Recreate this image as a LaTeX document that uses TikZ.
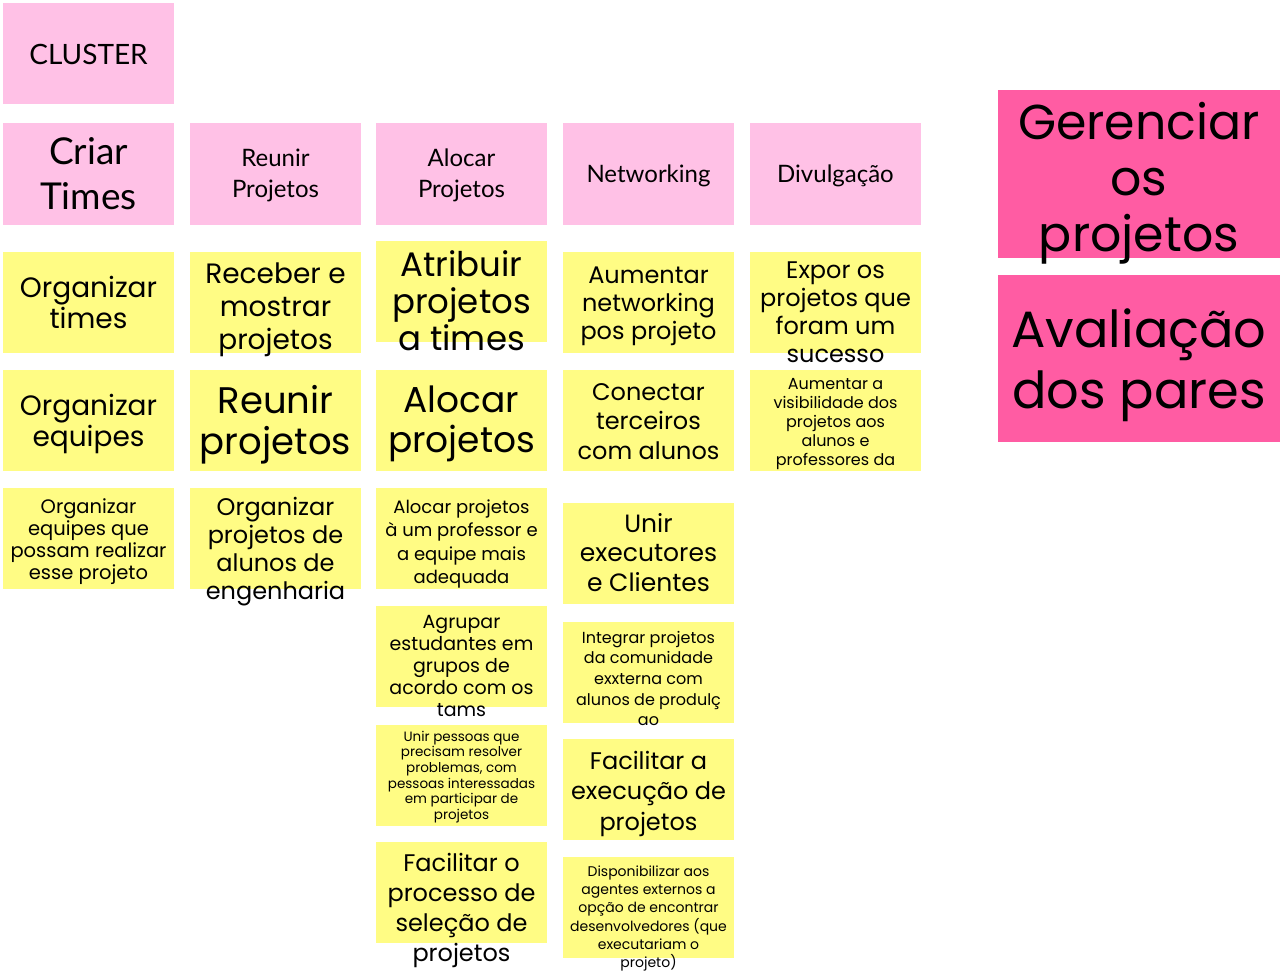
\documentclass[tikz,border=0pt]{standalone}
\usepackage{fontspec}
\setmainfont{Lato}
\newfontfamily\handfont{Poppins}
\usetikzlibrary{positioning}
\definecolor{HeaderPink}{RGB}{255,193,230}
\definecolor{TopicPink}{RGB}{255,92,163}
\definecolor{NoteYellow}{RGB}{255,252,132}
\newcommand{\notesize}[2]{\fontsize{#1}{#2}\selectfont}
\tikzset{
  box/.style={rectangle, inner sep=0pt, minimum width=171pt, minimum height=101pt},
  header/.style={box, fill=HeaderPink, minimum height=102pt},
  note/.style={box, fill=NoteYellow},
  topic/.style={box, fill=TopicPink, minimum width=282pt, minimum height=168pt},
  notetext/.style={inner sep=0pt, align=center},
  headtext/.style={notetext, font=\notesize{24}{31}},
}

\begin{document}
\begin{tikzpicture}[x=1pt, y=-1pt]
            \useasboundingbox (0,0) rectangle (1282,973);

            % Cluster title
            \node[header, minimum height=101pt] (cluster) at (88.5,53.5) {};
            \node[headtext, font=\notesize{28}{30}] (clusterTxt) at (88.5,54) {CLUSTER};

            % Column headers
            \node[header] (criar) at (88.5,174) {};
            \node[headtext, font=\notesize{37}{45}] (criarTxt) at (88.5,174) {Criar\\Times};
            \node[header] (reunir) at (275.5,174) {};
            \node[headtext] (reunirTxt) at (275.5,175) {Reunir\\Projetos};
            \node[header] (alocar) at (461.5,174) {};
            \node[headtext] (alocarTxt) at (461.5,175) {Alocar\\Projetos};
            \node[header] (networking) at (648.5,174) {};
            \node[headtext] (networkingTxt) at (648.5,176) {Networking};
            \node[header] (divulgacao) at (835.5,174) {};
            \node[headtext] (divulgacaoTxt) at (835.5,176) {Divulgação};

            % Column 1
            \node[note] (orgTimes) at (88.5,302.5) {};
            \node[notetext, font=\handfont\notesize{28}{31}] (orgTimesTxt) at (88.5,302.5) {Organizar\\times};
            \node[note] (orgEquipes) at (88.5,420.5) {};
            \node[notetext, font=\handfont\notesize{28}{31}] (orgEquipesTxt) at (88.5,423.5) {Organizar\\equipes};
            \node[note] (orgQue) at (88.5,538.5) {};
            \node[notetext, font=\handfont\notesize{19.5}{22}] (orgQueTxt) at (88.5,542) {Organizar\\equipes que\\possam realizar\\esse projeto};

            % Column 2
            \node[note] (receber) at (275.5,302.5) {};
            \node[notetext, font=\handfont\notesize{28}{33}] (receberTxt) at (275.5,310) {Receber e\\mostrar\\projetos};
            \node[note] (reunirProj) at (275.5,420.5) {};
            \node[notetext, font=\handfont\notesize{37}{41}] (reunirProjTxt) at (275.5,424.5) {Reunir\\projetos};
            \node[note] (orgEng) at (275.5,538.5) {};
            \node[notetext, font=\handfont\notesize{24}{28}] (orgEngTxt) at (275.5,551.5) {Organizar\\projetos de\\alunos de\\engenharia};

            % Column 3
            \node[note] (atribuir) at (461.5,292) {};
            \node[notetext, font=\handfont\notesize{34}{37}] (atribuirTxt) at (461.5,301) {Atribuir\\projetos\\a times};
            \node[note] (alocarProj) at (461.5,420.5) {};
            \node[notetext, font=\handfont\notesize{36}{40}] (alocarProjTxt) at (461.5,424) {Alocar\\projetos};
            \node[note] (alocarProf) at (461.5,538.5) {};
            \node[notetext, font=\handfont\notesize{18}{23.3}] (alocarProfTxt) at (461.5,544) {Alocar projetos\\à um professor e\\a equipe mais\\adequada};
            \node[note] (agrupar) at (461.5,656.5) {};
            \node[notetext, font=\handfont\notesize{19}{22}] (agruparTxt) at (461.5,666) {Agrupar\\estudantes em\\grupos de\\acordo com os\\tams};
            \node[note] (unirPessoas) at (461.5,775) {};
            \node[notetext, font=\handfont\notesize{13.5}{15.6}] (unirPessoasTxt) at (461.5,777) {Unir pessoas que\\precisam resolver\\problemas, com\\pessoas interessadas\\em participar de\\projetos};
            \node[note] (facilitarSel) at (461.5,892.5) {};
            \node[notetext, font=\handfont\notesize{24}{30}] (facilitarSelTxt) at (461.5,910) {Facilitar o\\processo de\\seleção de\\projetos};

            % Column 4
            \node[note] (aumentarNet) at (648.5,302.5) {};
            \node[notetext, font=\handfont\notesize{24}{28}] (aumentarNetTxt) at (648.5,306) {Aumentar\\networking\\pos projeto};
            \node[note] (conectar) at (648.5,420.5) {};
            \node[notetext, font=\handfont\notesize{24}{29.5}] (conectarTxt) at (648.5,421.5) {Conectar\\terceiros\\com alunos};
            \node[note] (unirExec) at (648.5,553.5) {};
            \node[notetext, font=\handfont\notesize{25}{29.5}] (unirExecTxt) at (648.5,552.5) {Unir\\executores\\e Clientes};
            \node[note] (integrar) at (648.5,672.5) {};
            \node[notetext, font=\handfont\notesize{16}{20.7}] (integrarTxt) at (648.5,678.5) {Integrar projetos\\da comunidade\\exxterna com\\alunos de produlç\\ao};
            \node[note] (facilitarExec) at (648.5,789.5) {};
            \node[notetext, font=\handfont\notesize{24}{30.5}] (facilitarExecTxt) at (648.5,793.5) {Facilitar a\\execução de\\projetos};
            \node[note] (disponibilizar) at (648.5,907.5) {};
            \node[notetext, font=\handfont\notesize{14}{18.2}] (disponibilizarTxt) at (648.5,918.5) {Disponibilizar aos\\agentes externos a\\opção de encontrar\\desenvolvedores (que\\executariam o\\projeto)};

            % Column 5
            \node[note] (expor) at (835.5,302.5) {};
            \node[notetext, font=\handfont\notesize{24}{28}] (exporTxt) at (835.5,312) {Expor os\\projetos que\\foram um\\sucesso};
            \node[note] (aumentarVis) at (835.5,420.5) {};
            \node[notetext, font=\handfont\notesize{16}{19}] (aumentarVisTxt) at (835.5,424.5) {Aumentar a\\visibilidade dos\\projetos aos\\alunos e\\professores da};

            % Topics on the right
            \node[topic] (gerenciar) at (1139,174) {};
            \node[notetext, font=\handfont\notesize{49}{56}] (gerenciarTxt) at (1139,183) {Gerenciar\\os\\projetos};
            \node[topic, minimum height=167pt] (avaliacao) at (1139,358.5) {};
            \node[notetext, font=\handfont\notesize{51}{61}] (avaliacaoTxt) at (1139,365.5) {Avaliação\\dos pares};
        \end{tikzpicture}
\end{document}
